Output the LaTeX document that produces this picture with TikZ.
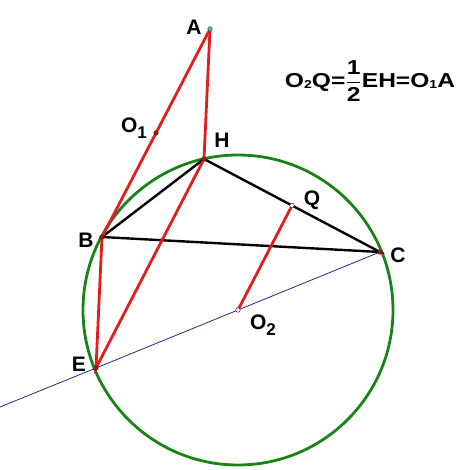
\documentclass[tikz,border=0pt]{standalone}
\usepackage{amsmath}
\usepackage{graphicx}
\usepackage{fontspec}
\setmainfont{Liberation Sans}
\usetikzlibrary{calc}
\begin{document}
\begin{tikzpicture}[x=1pt,y=-1pt,
  lbl/.style={font=\fontsize{21}{23}\selectfont\bfseries, inner sep=0pt},
  redln/.style={draw={rgb,255:red,225;green,30;blue,30}, line width=2.8pt},
  blkln/.style={draw=black, line width=2.4pt},
  pt/.style={circle, draw={rgb,255:red,110;green,20;blue,20}, line width=0.5pt, fill={rgb,255:red,150;green,30;blue,30}, minimum size=4.5pt, inner sep=0pt},
  wpt/.style={pt, fill=white},
  cpt/.style={pt, draw={rgb,255:red,20;green,90;blue,100}, fill={rgb,255:red,60;green,200;blue,200}}]
\useasboundingbox (0,0) rectangle (459,470);
\fill[white] (0,0) rectangle (459,470);
\coordinate (A) at (210,29);
\coordinate (H) at (204,159);
\coordinate (B) at (102,237);
\coordinate (C) at (380,252);
\coordinate (E) at (96,368);
\coordinate (O2) at (238,310);
\coordinate (Q) at ($(H)!0.5!(C)$);
\coordinate (O1) at ($(A)!0.5!(B)$);
\coordinate (L) at (0,407);
% circle
\draw[draw={rgb,255:red,25;green,130;blue,25}, line width=2.8pt] (O2) circle (155);
% thin line
\draw[draw={rgb,255:red,40;green,40;blue,140}, line width=0.8pt] (L) -- (E) -- (C);
% black triangle
\draw[blkln] (B) -- (H) -- (C) -- cycle;
% red
\draw[redln] (A) -- (B);
\draw[redln] (A) -- (H) -- (E) -- (B);
\draw[redln] (O2) -- (Q);
% points
\node[cpt] at (A) {};
\node[pt] at (O1) {};
\node[pt] at (H) {};
\node[pt] at (B) {};
\node[pt] at (C) {};
\node[pt] at (E) {};
\node[wpt] at (Q) {};
\node[wpt] at (O2) {};
% labels
\node[lbl] (lA) at (194,27) {A};
\node[lbl] (lH) at (222,140) {H};
\node[lbl] (lO1) at (134,128) {O\raisebox{-6pt}{\fontsize{17}{17}\selectfont 1}};
\node[lbl] (lB) at (86,240) {B};
\node[lbl] (lQ) at (312,200) {Q};
\node[lbl] (lC) at (398,255) {C};
\node[lbl] (lO2) at (263,325) {O\raisebox{-6pt}{\fontsize{17}{17}\selectfont 2}};
\node[lbl] (lE) at (79,364) {E};
\node[lbl] (F) at (370,81) {\resizebox{170pt}{!}{\scalebox{1}[0.82]{O\raisebox{-1pt}{\fontsize{12}{12}\selectfont 2}Q=$\displaystyle\genfrac{}{}{1pt}{}{\mbox{1}}{\mbox{2}}$EH=O\raisebox{-1pt}{\fontsize{12}{12}\selectfont 1}A}}};
\end{tikzpicture}
\end{document}
